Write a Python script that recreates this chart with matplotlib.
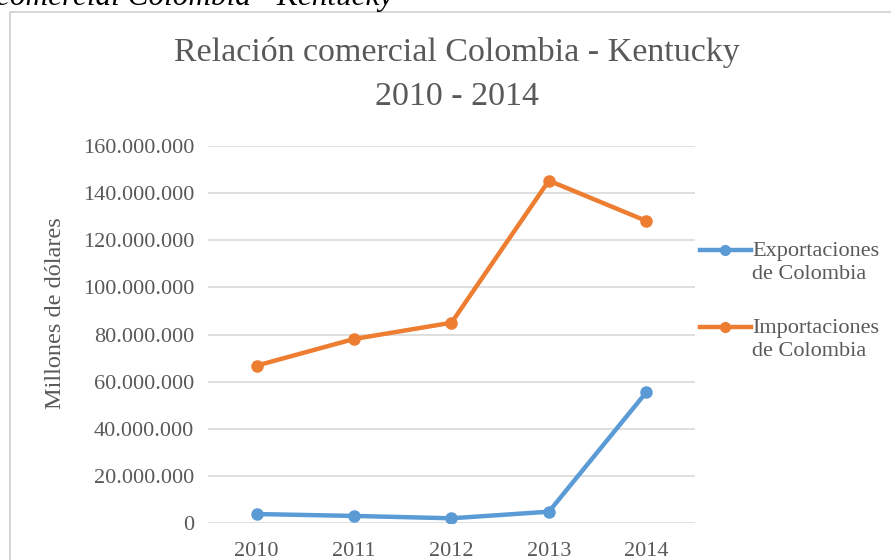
import matplotlib.pyplot as plt
from matplotlib.patches import Rectangle
from matplotlib.lines import Line2D
from matplotlib.ticker import FuncFormatter

years = ["2010", "2011", "2012", "2013", "2014"]
exportaciones = [3.8e6, 3.0e6, 2.0e6, 4.8e6, 55.5e6]
importaciones = [66.8e6, 78.1e6, 85.0e6, 145.3e6, 128.2e6]
y_ticks = [0, 20e6, 40e6, 60e6, 80e6, 100e6, 120e6, 140e6, 160e6]
series_names = ["Exportaciones\nde Colombia", "Importaciones\nde Colombia"]

BLUE = "#5B9BD5"
ORANGE = "#ED7D31"
GRAY = "#595959"
SERIF = "Liberation Serif"


def miles(v, pos):
    return f"{int(round(v)):,}".replace(",", ".")


def main():
    plt.rcParams["font.family"] = SERIF
    fig = plt.figure(figsize=(8.91, 5.6), dpi=100)
    W, H = 891, 560

    # chart frame (Excel style) and the caption cut at the top
    fig.patches.append(Rectangle((10 / W, -0.1), 1.2, 1 - 12 / H + 0.1,
                                 transform=fig.transFigure, fill=False,
                                 edgecolor="#D0D0D0", lw=1.2))
    fig.text(-4 / W, 1 - 5 / H, "comercial Colombia - Kentucky", fontsize=22.5,
             style="italic", color="black", va="baseline", ha="left")

    ax = fig.add_axes([208 / W, 1 - 523 / H, (695 - 208) / W, (523 - 146) / H])
    x = list(range(len(years)))
    colors = [BLUE, ORANGE]
    for vals, c in zip([exportaciones, importaciones], colors):
        ax.plot(x, vals, color=c, lw=3.2, marker="o", ms=8)

    ax.set_xlim(-0.5, len(years) - 0.5)
    ax.set_ylim(0, 160e6)
    ax.set_xticks(x)
    ax.set_xticklabels(years)
    ax.set_yticks(y_ticks)
    ax.yaxis.set_major_formatter(FuncFormatter(miles))
    ax.grid(axis="y", color="#D9D9D9", lw=1.2)
    ax.set_axisbelow(True)
    for s in ax.spines.values():
        s.set_visible(False)
    ax.tick_params(length=0, labelsize=16, colors=GRAY, pad=10)
    ax.tick_params(axis="x", pad=14)
    ax.set_ylabel("Millones de dólares", fontsize=17.5, color=GRAY)
    ax.yaxis.set_label_coords((66 - 208) / 487, (523 - 313) / 377)

    fig.text(457 / W, 1 - 53 / H, "Relación comercial Colombia - Kentucky",
             fontsize=24.5, color=GRAY, ha="center", va="center")
    fig.text(457 / W, 1 - 97 / H, "2010 - 2014",
             fontsize=24.5, color=GRAY, ha="center", va="center")

    # legend: handle aligned with the first line of each label
    for name, c, yl in zip(series_names, colors, [250, 327]):
        fig.add_artist(Line2D([700 / W, 725 / W, 751 / W], [1 - yl / H] * 3,
                              transform=fig.transFigure, color=c, lw=3.2,
                              marker="o", ms=7, markevery=[1]))
        fig.text(752 / W, 1 - (yl - 8) / H, name, fontsize=16, color=GRAY,
                 ha="left", va="top", linespacing=1.3)

    fig.savefig("out.png", dpi=100)


if __name__ == "__main__":
    main()
